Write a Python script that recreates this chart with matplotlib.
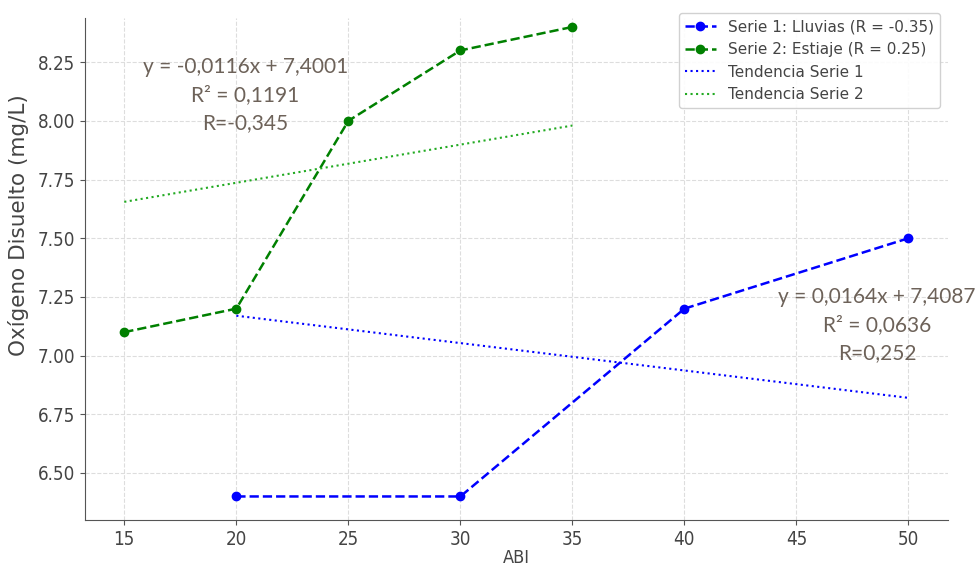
import matplotlib
matplotlib.use("Agg")
import matplotlib.pyplot as plt

# data
abi_lluvias = [20, 30, 40, 50]
od_lluvias = [6.4, 6.4, 7.2, 7.5]
abi_estiaje = [15, 20, 25, 30, 35]
od_estiaje = [7.1, 7.2, 8.0, 8.3, 8.4]

# trend lines as drawn (endpoints)
trend1_x = [20, 50]
trend1_y = [7.17, 6.82]
trend2_x = [15, 35]
trend2_y = [7.655, 7.98]

x_ticks = [15, 20, 25, 30, 35, 40, 45, 50]
y_ticks = [6.5, 6.75, 7.0, 7.25, 7.5, 7.75, 8.0, 8.25]

eq1_text = "y = -0,0116x + 7,4001\nR\u00b2 = 0,1191\nR=-0,345"
eq2_text = "y = 0,0164x + 7,4087\nR\u00b2 = 0,0636\nR=0,252"

fig = plt.figure(figsize=(9.78, 5.67), dpi=100)
ax = fig.add_axes([0.087, 0.083, 0.882, 0.885])

ax.plot(abi_lluvias, od_lluvias, ls="--", marker="o", color="blue", lw=1.8,
        ms=6, label="Serie 1: Lluvias (R = -0.35)", clip_on=False)
ax.plot(abi_estiaje, od_estiaje, ls="--", marker="o", color="green", lw=1.8,
        ms=6, label="Serie 2: Estiaje (R = 0.25)", clip_on=False)
ax.plot(trend1_x, trend1_y, ls=":", color="blue", lw=1.5, label="Tendencia Serie 1")
ax.plot(trend2_x, trend2_y, ls=":", color="#22aa22", lw=1.5, label="Tendencia Serie 2")

ax.set_xlim(13.25, 51.75)
ax.set_ylim(6.3, 8.4375)
ax.set_xticks(x_ticks)
ax.set_xticklabels([str(v) for v in x_ticks])
ax.set_yticks(y_ticks)
ax.set_yticklabels([f"{v:.2f}" for v in y_ticks])
for lbl in ax.get_xticklabels() + ax.get_yticklabels():
    lbl.set_fontsize(13.5)
    lbl.set_fontstretch("condensed")
    lbl.set_color("#444444")
ax.tick_params(color="#555555")
ax.set_xlabel("ABI", fontsize=13, fontstretch="condensed", color="#444444",
              labelpad=0)
ax.set_ylabel("Oxígeno Disuelto (mg/L)", fontsize=15.5, color="#444444")
ax.yaxis.set_label_coords(-0.065, 0.588)
ax.grid(True, ls="--", color="#dddddd", lw=0.8)
for s in ("top", "right"):
    ax.spines[s].set_visible(False)
for s in ("left", "bottom"):
    ax.spines[s].set_color("#555555")

ax.text(20.4, 8.11, eq1_text, ha="center", va="center", fontsize=15,
        color="#6d6259", family="Lato", linespacing=1.5)
ax.text(48.6, 7.13, eq2_text, ha="center", va="center", fontsize=15,
        color="#6d6259", family="Lato", linespacing=1.5, clip_on=False)

leg = ax.legend(loc="upper right", fontsize=11, framealpha=0.9,
                bbox_to_anchor=(1.0, 1.025))
for t in leg.get_texts():
    t.set_color("#444444")

fig.savefig("out.png", dpi=100)
